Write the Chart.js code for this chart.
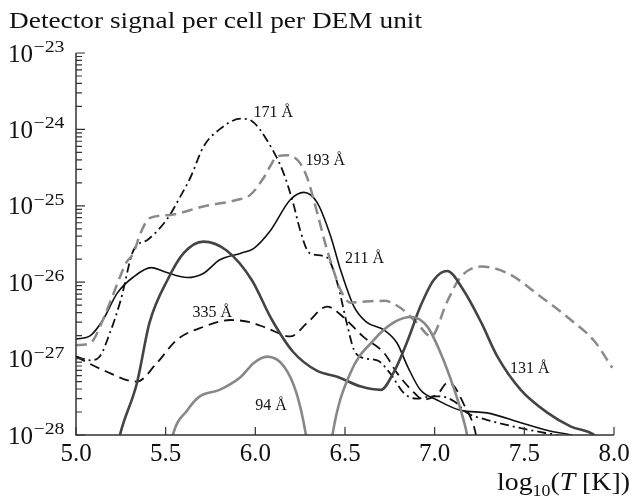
<!DOCTYPE html>
<html>
<head>
<meta charset="utf-8">
<script src="https://cdn.jsdelivr.net/npm/chart.js@4.4.1/dist/chart.umd.min.js"></script>
<style>
  html, body { margin: 0; padding: 0; background: #fff; }
  canvas { display: block; }
</style>
</head>
<body>
<canvas id="myChart" width="631" height="499"></canvas>
<script>
// log10(T) points and response of each channel
let t131 = [5.20, 5.245, 5.34, 5.41, 5.51, 5.60, 5.71, 5.84, 5.98, 6.09, 6.21, 6.345, 6.456, 6.59, 6.70, 6.77, 6.85, 6.92, 6.995, 7.07, 7.16, 7.26, 7.35, 7.48, 7.63, 7.76, 7.89, 7.95];
let r131 = [3e-29, 1e-28, 4.8e-28, 2.95e-27, 1.07e-26, 2.4e-26, 3.4e-26, 2.6e-26, 1.07e-26, 3.3e-27, 1.23e-27, 6.9e-28, 5.8e-28, 4.3e-28, 3.9e-28, 6.5e-28, 1.74e-27, 4.8e-27, 1.07e-26, 1.4e-26, 7.9e-27, 2.95e-27, 1.06e-27, 3.9e-28, 1.95e-28, 1.29e-28, 1e-28, 7e-29];

let t94 = [5.50, 5.54, 5.62, 5.69, 5.80, 5.92, 5.99, 6.065, 6.16, 6.23, 6.28, 6.30, 6.38, 6.43, 6.53, 6.66, 6.77, 6.87, 6.96, 7.03, 7.11, 7.16, 7.18, 7.21];
let r94 = [3e-29, 1e-28, 2.1e-28, 3.2e-28, 3.9e-28, 5.8e-28, 8.7e-28, 1.06e-27, 7.9e-28, 3.5e-28, 1.07e-28, 5e-29, 1e-29, 1e-28, 6.5e-28, 1.74e-27, 2.95e-27, 3.5e-27, 2.6e-27, 1.23e-27, 3.9e-28, 1.6e-28, 1e-28, 2e-29];

let t171 = [5.00, 5.08, 5.13, 5.19, 5.25, 5.32, 5.40, 5.51, 5.58, 5.64, 5.71, 5.80, 5.92, 5.98, 6.065, 6.157, 6.21, 6.25, 6.29, 6.325, 6.40, 6.457, 6.51, 6.55, 6.60, 6.68, 6.75, 6.83, 6.90, 6.98, 7.03, 7.11, 7.18, 7.29, 7.48, 7.61, 7.68, 7.75];
let r171 = [1.06e-27, 9.5e-28, 1.05e-27, 2.2e-27, 5.9e-27, 2.6e-26, 3.6e-26, 6.8e-26, 1.3e-25, 2.4e-25, 5.9e-25, 1.0e-24, 1.38e-24, 1.29e-24, 7.2e-25, 2.7e-25, 1.1e-25, 4.8e-26, 2.6e-26, 2.3e-26, 2.1e-26, 9.8e-27, 2.9e-27, 1.3e-27, 1.02e-27, 9.5e-28, 6.5e-28, 3.5e-28, 3.0e-28, 3.2e-28, 3.2e-28, 2.75e-28, 1.95e-28, 1.58e-28, 1.23e-28, 1.07e-28, 1e-28, 8.5e-29];

let t193 = [5.00, 5.08, 5.15, 5.21, 5.28, 5.32, 5.36, 5.41, 5.525, 5.71, 5.90, 5.97, 6.05, 6.08, 6.12, 6.18, 6.25, 6.29, 6.345, 6.39, 6.435, 6.475, 6.53, 6.62, 6.72, 6.81, 6.90, 6.98, 7.07, 7.145, 7.26, 7.41, 7.59, 7.76, 7.89, 7.99];
let r193 = [1.5e-27, 1.6e-27, 3.2e-27, 7.2e-27, 1.8e-26, 2.4e-26, 4.4e-26, 6.9e-26, 7.6e-26, 9.8e-26, 1.2e-25, 1.38e-25, 2.4e-25, 3.2e-25, 4.4e-25, 4.6e-25, 3.6e-25, 2.3e-25, 8.1e-26, 3.2e-26, 1.45e-26, 7.9e-27, 5.4e-27, 5.6e-27, 5.7e-27, 4.6e-27, 2.95e-27, 1.95e-27, 5.6e-27, 1.17e-26, 1.6e-26, 1.3e-26, 6.5e-27, 3.2e-27, 1.7e-27, 7.6e-28];

let t211 = [5.00, 5.08, 5.15, 5.23, 5.32, 5.42, 5.49, 5.62, 5.71, 5.80, 5.92, 5.99, 6.08, 6.195, 6.27, 6.345, 6.42, 6.475, 6.55, 6.62, 6.72, 6.79, 6.85, 6.92, 7.01, 7.145, 7.29, 7.48, 7.66, 7.76, 7.85];
let r211 = [1.8e-27, 2.0e-27, 3.2e-27, 7.2e-27, 1.17e-26, 1.55e-26, 1.38e-26, 1.15e-26, 1.3e-26, 1.95e-26, 2.4e-26, 2.75e-26, 4.6e-26, 1.2e-25, 1.5e-25, 1.1e-25, 4.0e-26, 1.45e-26, 4.8e-27, 3.0e-27, 2.35e-27, 1.6e-27, 7.8e-28, 3.9e-28, 2.9e-28, 2.1e-28, 1.95e-28, 1.45e-28, 1.1e-28, 1e-28, 8e-29];

let t335 = [5.00, 5.15, 5.34, 5.45, 5.56, 5.71, 5.86, 5.97, 6.065, 6.195, 6.29, 6.40, 6.49, 6.60, 6.72, 6.79, 6.87, 6.94, 7.02, 7.07, 7.11, 7.16, 7.22, 7.25];
let r335 = [1.06e-27, 7.1e-28, 5.0e-28, 8.7e-28, 1.74e-27, 2.6e-27, 3.2e-27, 3.0e-27, 2.5e-27, 1.95e-27, 2.95e-27, 4.8e-27, 3.5e-27, 1.95e-27, 1.17e-27, 6.5e-28, 3.9e-28, 2.9e-28, 3.5e-28, 4.8e-28, 4.3e-28, 2.6e-28, 1.26e-28, 6e-29];

let xTicks = [5.0, 5.5, 6.0, 6.5, 7.0, 7.5, 8.0];
let yDecades = [-28, -27, -26, -25, -24, -23];

// channel names placed next to their curves (log T, response)
let tagText = ["171 Å", "193 Å", "211 Å", "335 Å", "94 Å", "131 Å"];
let tagT = [5.99, 6.28, 6.50, 5.65, 6.00, 7.42];
let tagR = [1.45e-24, 3.4e-25, 1.8e-26, 3.5e-27, 2.1e-28, 6.5e-28];

const SERIF = "'Liberation Serif', 'DejaVu Serif', serif";
const AXIS = '#333';
const TITLE = 'Detector signal per cell per DEM unit';

const pairs = (xs, ys) => xs.map((x, i) => ({x: x, y: ys[i]}));

// text stretched sideways so it spans the given width
function wideText(ctx, s, x, y, w) {
    let sx = w / ctx.measureText(s).width;
    ctx.save();
    ctx.translate(x, y);
    ctx.scale(sx, 1);
    ctx.fillText(s, 0, 0);
    ctx.restore();
}

const decor = {
    id: 'decor',
    afterDatasetsDraw(chart) {
        const ctx = chart.ctx;
        const xs = chart.scales.x, ys = chart.scales.y;
        const a = chart.chartArea;
        ctx.save();
        ctx.strokeStyle = AXIS;
        ctx.lineWidth = 1.5;
        // axis lines
        ctx.beginPath();
        ctx.moveTo(a.left, a.top);
        ctx.lineTo(a.left, a.bottom);
        ctx.lineTo(a.right, a.bottom);
        ctx.stroke();

        // y ticks: decades long, 2..9 short, pointing inward
        ctx.lineWidth = 1.2;
        ctx.beginPath();
        for (let d = yDecades[0]; d <= yDecades[yDecades.length - 1]; d++) {
            let py = ys.getPixelForValue(Math.pow(10, d));
            ctx.moveTo(a.left, py);
            ctx.lineTo(a.left + 9, py);
            if (d === yDecades[yDecades.length - 1]) break;
            for (let m = 2; m <= 9; m++) {
                let q = ys.getPixelForValue(m * Math.pow(10, d));
                ctx.moveTo(a.left, q);
                ctx.lineTo(a.left + 6, q);
            }
        }
        // x ticks pointing up
        xTicks.forEach(v => {
            let px = xs.getPixelForValue(v);
            ctx.moveTo(px, a.bottom);
            ctx.lineTo(px, a.bottom - 8);
        });
        ctx.stroke();

        ctx.fillStyle = '#111';
        // y tick labels 10^n
        yDecades.forEach(d => {
            let py = ys.getPixelForValue(Math.pow(10, d));
            ctx.font = '25px ' + SERIF;
            ctx.textAlign = 'right';
            ctx.fillText('10', 33, py + 8.5);
            ctx.font = '17px ' + SERIF;
            ctx.textAlign = 'left';
            wideText(ctx, '\u2212' + Math.abs(d), 33.5, py - 1, 31);
        });

        // x tick labels
        ctx.font = '25px ' + SERIF;
        ctx.textAlign = 'center';
        xTicks.forEach(v => {
            ctx.fillText(v.toFixed(1), xs.getPixelForValue(v), 461);
        });

        // x axis title: log10(T [K])
        let parts = [
            ['log', '25px ' + SERIF, 0],
            ['10', '16px ' + SERIF, 6],
            ['(', '25px ' + SERIF, 0],
            ['T', 'italic 25px ' + SERIF, 0],
            [' [K])', '25px ' + SERIF, 0]
        ];
        let total = 0;
        parts.forEach(p => { ctx.font = p[1]; total += ctx.measureText(p[0]).width; });
        let k = 133 / total;
        ctx.save();
        ctx.translate(497, 0);
        ctx.scale(k, 1);
        ctx.textAlign = 'left';
        let cx = 0;
        parts.forEach(p => {
            ctx.font = p[1];
            ctx.fillText(p[0], cx, 490 + p[2]);
            cx += ctx.measureText(p[0]).width;
        });
        ctx.restore();

        // title
        ctx.textAlign = 'left';
        ctx.font = '23px ' + SERIF;
        wideText(ctx, TITLE, 9, 28, 413);

        // channel names
        ctx.font = '16px ' + SERIF;
        tagText.forEach((s, i) => {
            ctx.fillText(s, xs.getPixelForValue(tagT[i]), ys.getPixelForValue(tagR[i]));
        });
        ctx.restore();
    }
};

new Chart('myChart', {
    type: 'line',
    data: {
        datasets: [
            {label: '94 Å', data: pairs(t94, r94), borderColor: '#888', borderWidth: 2.6},
            {label: '131 Å', data: pairs(t131, r131), borderColor: '#444', borderWidth: 2.6},
            {label: '193 Å', data: pairs(t193, r193), borderColor: '#8a8a8a', borderWidth: 2.5, borderDash: [11, 6]},
            {label: '335 Å', data: pairs(t335, r335), borderColor: '#111', borderWidth: 1.8, borderDash: [10, 6]},
            {label: '171 Å', data: pairs(t171, r171), borderColor: '#111', borderWidth: 1.8, borderDash: [9, 4, 2, 4]},
            {label: '211 Å', data: pairs(t211, r211), borderColor: '#111', borderWidth: 1.6}
        ]
    },
    options: {
        responsive: false,
        animation: false,
        devicePixelRatio: 1,
        layout: {padding: {left: 76, right: 17, top: 53, bottom: 64}},
        elements: {
            point: {radius: 0},
            line: {cubicInterpolationMode: 'monotone', fill: false}
        },
        datasets: {line: {clip: 0}},
        plugins: {legend: {display: false}, tooltip: {enabled: false}},
        scales: {
            x: {type: 'linear', min: 5, max: 8, display: false},
            y: {type: 'logarithmic', min: 1e-28, max: 1e-23, display: false}
        }
    },
    plugins: [decor]
});
</script>
</body>
</html>
